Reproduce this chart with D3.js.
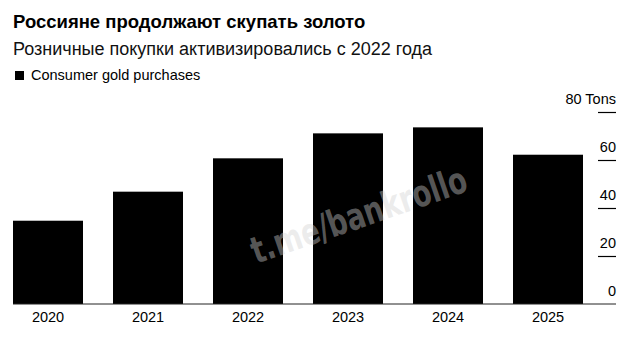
<!DOCTYPE html>
<html>
<head>
<meta charset="utf-8">
<script src="https://cdn.jsdelivr.net/npm/d3@7"></script>
<style>
  body { margin: 0; background: #fff; }
  svg { display: block; font-family: "Liberation Sans", Arial, sans-serif; }
</style>
</head>
<body>
<div id="chart"></div>
<script>
const years = ['2020', '2021', '2022', '2023', '2024', '2025'];
const purchases = [34.7, 46.8, 60.7, 71.1, 73.6, 62.2];
const yTicks = [0, 20, 40, 60, 80];

const title = 'Россияне продолжают скупать золото';
const subtitle = 'Розничные покупки активизировались с 2022 года';
const legendLabel = 'Consumer gold purchases';

const W = 638, H = 346;

const svg = d3.select('#chart')
  .append('svg')
  .attr('width', W)
  .attr('height', H);

svg.append('text')
  .attr('x', 13).attr('y', 28)
  .attr('font-size', 18.5).attr('font-weight', 'bold')
  .attr('fill', '#000')
  .text(title);

svg.append('text')
  .attr('x', 13).attr('y', 55)
  .attr('font-size', 18)
  .attr('fill', '#111')
  .text(subtitle);

svg.append('rect')
  .attr('x', 15).attr('y', 71)
  .attr('width', 9).attr('height', 9)
  .attr('fill', '#000');

svg.append('text')
  .attr('x', 31).attr('y', 80)
  .attr('font-size', 14.5)
  .attr('fill', '#000')
  .text(legendLabel);

const xScale = d3.scaleBand()
  .domain(years)
  .range([13, 583])
  .paddingInner(0.3)
  .paddingOuter(0);

const yScale = d3.scaleLinear()
  .domain([0, 80])
  .range([304, 112]);

svg.selectAll('.bar')
  .data(purchases)
  .enter()
  .append('rect')
  .attr('class', 'bar')
  .attr('x', (d, i) => xScale(years[i]))
  .attr('y', (d) => yScale(d))
  .attr('width', xScale.bandwidth())
  .attr('height', (d) => yScale(0) - yScale(d))
  .attr('fill', '#000');

// x axis: year labels under the bars
const xAxis = svg.append('g')
  .attr('transform', 'translate(0,304)')
  .call(d3.axisBottom(xScale).tickSize(0));
xAxis.select('.domain').remove();
xAxis.selectAll('text')
  .attr('y', 18)
  .attr('dy', 0)
  .attr('font-family', '"Liberation Sans", Arial, sans-serif')
  .attr('font-size', 14.5)
  .attr('fill', '#000');

svg.append('line')
  .attr('x1', 13).attr('x2', 616)
  .attr('y1', yScale(0)).attr('y2', yScale(0))
  .attr('stroke', '#222').attr('stroke-width', 1);

// right axis: short tick lines with labels sitting above them
const yAxis = svg.append('g')
  .attr('transform', 'translate(616,0)')
  .call(d3.axisLeft(yScale).tickValues(yTicks).tickSize(18).tickFormat((d) => d === 80 ? '80 Tons' : d));
yAxis.select('.domain').remove();
yAxis.selectAll('.tick line')
  .attr('stroke', '#000')
  .attr('stroke-width', (d) => d === 0 ? 0 : 1.2);
yAxis.selectAll('.tick text')
  .attr('x', 0)
  .attr('y', -9)
  .attr('dy', 0)
  .attr('text-anchor', 'end')
  .attr('font-family', '"Liberation Sans", Arial, sans-serif')
  .attr('font-size', 14.5)
  .attr('fill', '#000');

// watermark
svg.append('text')
  .attr('transform', 'translate(256,264) rotate(-19)')
  .attr('font-family', '"Liberation Sans Narrow", "DejaVu Sans Condensed", sans-serif')
  .attr('font-weight', 'bold')
  .attr('font-size', 37)
  .attr('textLength', 226)
  .attr('lengthAdjust', 'spacingAndGlyphs')
  .attr('fill', 'rgb(210,210,210)')
  .attr('fill-opacity', 0.42)
  .text('t.me/bankrollo');
</script>
</body>
</html>
